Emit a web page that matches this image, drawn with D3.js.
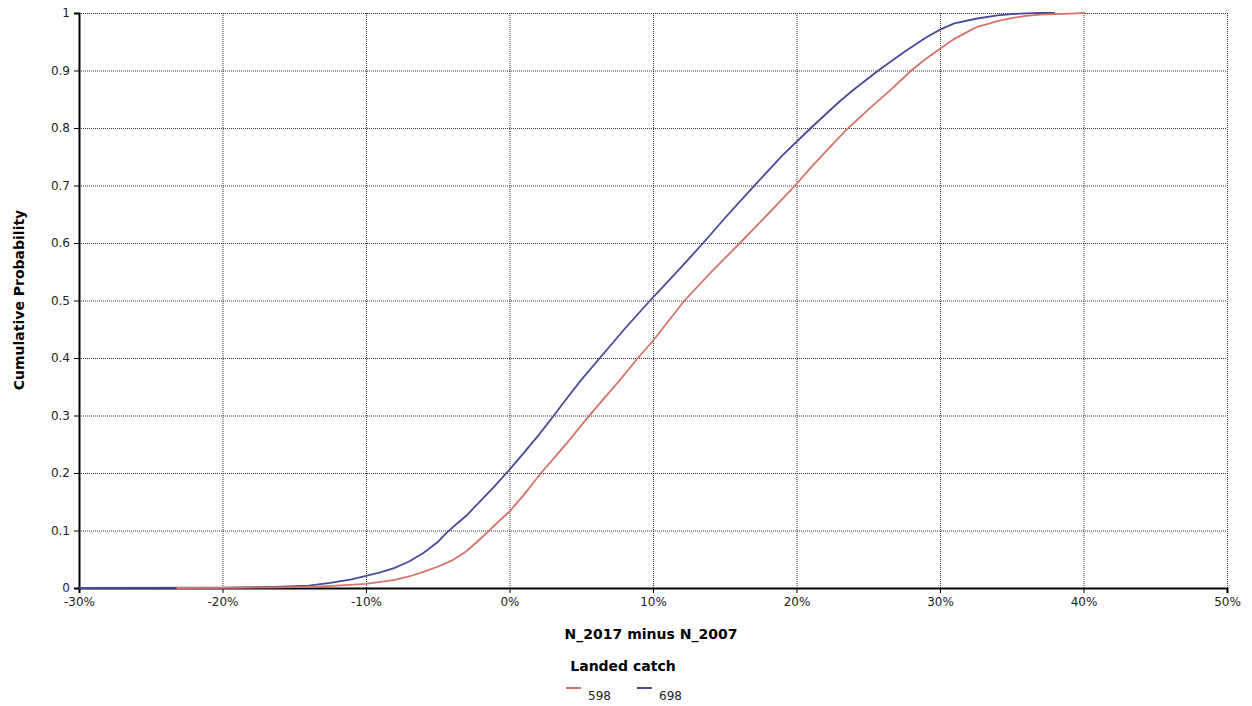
<!DOCTYPE html>
<html><head><meta charset="utf-8">
<script src="https://cdn.jsdelivr.net/npm/d3@7"></script>
<style>
body{margin:0;background:#fff;}
text{font-family:"DejaVu Sans",Verdana,sans-serif;}
</style></head><body>
<svg id="c" width="1252" height="706"></svg>
<script>
const xTicks = [-30,-20,-10,0,10,20,30,40,50];
const yTicks = [0,0.1,0.2,0.3,0.4,0.5,0.6,0.7,0.8,0.9,1];
const seriesNames = ["598","698"];
const seriesColors = ["#d4746b","#4a4a98"];

const x598 = [-23.2,-20,-16,-14,-12,-10,-8,-7,-6,-5,-4,-3,-2,-1,0,1,2.2,4,5.5,7.7,8.95,10,12.2,14,16.06,18,19.9,21,22,23.4,25,26.5,28,29,30,31,32.5,34,35,36,37,38,39,40.1];
const y598 = [0,0.0003,0.001,0.002,0.004,0.007,0.014,0.02,0.028,0.037,0.048,0.064,0.086,0.11,0.133,0.162,0.2,0.252,0.298,0.362,0.4,0.43,0.5,0.548,0.6,0.65,0.7,0.731,0.758,0.795,0.832,0.865,0.9,0.92,0.938,0.955,0.975,0.986,0.991,0.995,0.997,0.998,0.999,1];

const x698 = [-30,-20,-16.4,-14,-12.5,-11,-10,-9,-8,-7,-6,-5,-4.3,-3,-2,-1,0,1,2,3,4,5,6.4,8,9.8,11,12,13.5,15,17,19,21,22,23,24,25.7,27.5,29,30,31,32.5,34,35,36,37,38];
const y698 = [0,0.0005,0.002,0.004,0.009,0.015,0.021,0.027,0.035,0.046,0.061,0.08,0.098,0.126,0.152,0.178,0.206,0.235,0.265,0.297,0.33,0.362,0.403,0.45,0.5,0.532,0.559,0.6,0.643,0.698,0.752,0.8,0.823,0.846,0.867,0.9,0.932,0.957,0.971,0.982,0.99,0.996,0.998,0.9995,1,1];

const svg = d3.select("#c");
const X = d3.scaleLinear().domain([-30,50]).range([79,1227]);
const Y = d3.scaleLinear().domain([0,1]).range([588,13]);

// grid
svg.append("g").selectAll("line").data(yTicks.slice(1)).join("line")
  .attr("x1",79).attr("x2",1227).attr("y1",d=>Y(d)+0.5).attr("y2",d=>Y(d)+0.5)
  .attr("stroke","#333").attr("stroke-width",1).attr("stroke-dasharray","1,1");
svg.append("g").selectAll("line").data(xTicks.slice(1)).join("line")
  .attr("x1",d=>X(d)+0.5).attr("x2",d=>X(d)+0.5).attr("y1",13).attr("y2",588)
  .attr("stroke","#333").attr("stroke-width",1).attr("stroke-dasharray","1,1");

// axes
const xa = svg.append("g").attr("transform","translate(0,588)")
  .call(d3.axisBottom(X).tickValues(xTicks).tickFormat(d=>d+"%").tickSize(5).tickPadding(4));
const ya = svg.append("g").attr("transform","translate(79,0)")
  .call(d3.axisLeft(Y).tickValues(yTicks).tickFormat(d=>d3.format("")(d)).tickSize(5).tickPadding(4));
[xa,ya].forEach(a=>{
  a.select(".domain").attr("stroke","#000").attr("stroke-width",2);
  a.selectAll("text").attr("font-size",12).attr("fill","#222").attr("font-family","DejaVu Sans, Verdana, sans-serif");
  a.selectAll(".tick line").attr("stroke","#000");
});

// lines
const line = d3.line().x(d=>X(d[0])).y(d=>Y(d[1]));
const data = [d3.zip(x598,y598), d3.zip(x698,y698)];
svg.append("path").datum(data[1]).attr("d",line).attr("fill","none").attr("stroke",seriesColors[1]).attr("stroke-width",1.8);
svg.append("path").datum(data[0]).attr("d",line).attr("fill","none").attr("stroke",seriesColors[0]).attr("stroke-width",1.8);

// titles
svg.append("text").attr("x",651).attr("y",639).attr("text-anchor","middle")
  .attr("font-size",14).attr("font-weight","bold").attr("fill","#000").text("N_2017 minus N_2007");
svg.append("text").attr("transform","translate(24,300) rotate(-90)").attr("text-anchor","middle")
  .attr("font-size",14).attr("font-weight","bold").attr("fill","#000").text("Cumulative Probability");
svg.append("text").attr("x",623).attr("y",671).attr("text-anchor","middle")
  .attr("font-size",14).attr("font-weight","bold").attr("fill","#000").text("Landed catch");

// legend
const lx = [566,637];
seriesNames.forEach((n,i)=>{
  svg.append("line").attr("x1",lx[i]).attr("x2",lx[i]+15).attr("y1",688).attr("y2",688)
    .attr("stroke",seriesColors[i]).attr("stroke-width",2);
  svg.append("text").attr("x",lx[i]+22).attr("y",700).attr("font-size",12).attr("fill","#222").text(n);
});
</script></body></html>
